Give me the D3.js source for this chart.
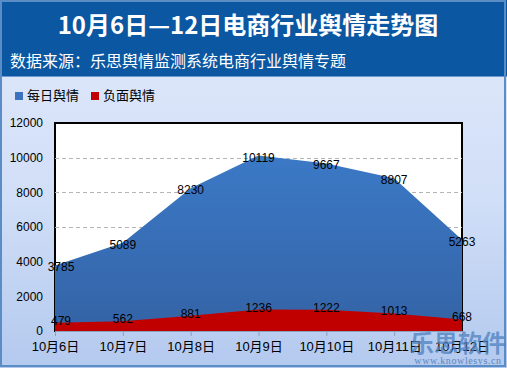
<!DOCTYPE html>
<html><head><meta charset="utf-8">
<script src="https://cdn.jsdelivr.net/npm/d3@7"></script>
<style>
html,body{margin:0;padding:0;background:#fff;}
svg{display:block;}
</style></head>
<body>
<script>
const categories = ["10月6日","10月7日","10月8日","10月9日","10月10日","10月11日","10月12日"];
const dailyValues = [3785, 5089, 8230, 10119, 9667, 8807, 5263];
const negativeValues = [479, 562, 881, 1236, 1222, 1013, 668];
const yTicks = [0, 2000, 4000, 6000, 8000, 10000, 12000];
const seriesNames = ["每日舆情", "负面舆情"];
const titleText = "10月6日—12日电商行业舆情走势图";
const subtitleText = "数据来源：乐思舆情监测系统电商行业舆情专题";

(function(){
const W = 507, H = 368;
const cjk = "Arial, 'Liberation Sans', 'Noto Sans CJK SC', sans-serif";
const svg = d3.select("body").append("svg").attr("width", W).attr("height", H);
const defs = svg.append("defs");

const bg = defs.append("linearGradient").attr("id","bg").attr("x1",0).attr("y1",0).attr("x2",0).attr("y2",1);
bg.append("stop").attr("offset","0%").attr("stop-color","#e2eafb");
bg.append("stop").attr("offset","55%").attr("stop-color","#d0def7");
bg.append("stop").attr("offset","100%").attr("stop-color","#b3c9ee");

const blueG = defs.append("linearGradient").attr("id","blueG").attr("x1",0).attr("y1",0).attr("x2",0).attr("y2",1);
blueG.append("stop").attr("offset","0%").attr("stop-color","#3b79c6");
blueG.append("stop").attr("offset","100%").attr("stop-color","#3463a6");

svg.append("rect").attr("x",0).attr("y",0).attr("width",W).attr("height",H).attr("fill","url(#bg)");
svg.append("rect").attr("x",0).attr("y",0).attr("width",W).attr("height",76).attr("fill","#0b57a2");
svg.append("line").attr("x1",0).attr("x2",W).attr("y1",76.5).attr("y2",76.5).attr("stroke","#6d98cf").attr("stroke-width",1);
svg.append("rect").attr("x",1).attr("y",1).attr("width",W-3).attr("height",H-3)
  .attr("fill","none").attr("stroke","#5a8cc6").attr("stroke-width",2);

svg.append("text").attr("x",248).attr("y",34).attr("text-anchor","middle")
  .attr("font-family","'Noto Sans CJK SC', sans-serif").attr("font-weight","bold")
  .attr("font-size",24).attr("fill","#fff").text(titleText);
svg.append("text").attr("x",10).attr("y",67)
  .attr("font-family","'Noto Sans CJK SC', sans-serif")
  .attr("font-size",16).attr("fill","#fff").text(subtitleText);

const legColors = ["#3a72bd","#c00000"];
const legX = [15, 91];
seriesNames.forEach((n,i)=>{
  svg.append("rect").attr("x",legX[i]).attr("y",92).attr("width",8).attr("height",8).attr("fill",legColors[i]);
  svg.append("text").attr("x",legX[i]+12).attr("y",100).attr("font-family","'Noto Sans CJK SC', sans-serif")
    .attr("font-size",13).attr("fill","#000").text(n);
});

const pl = 55, pr = 462, pt = 123, pb = 331;
const x = d3.scalePoint().domain(categories).range([pl, pr]);
const y = d3.scaleLinear().domain([0, 12000]).range([pb, pt]);

svg.append("rect").attr("x",pl).attr("y",pt).attr("width",pr-pl).attr("height",pb-pt)
  .attr("fill","#fff").attr("stroke","#000").attr("stroke-width",2);

svg.append("g").selectAll("line").data(yTicks.filter(d=>d>0 && d<12000)).join("line")
  .attr("x1",pl).attr("x2",pr).attr("y1",d=>Math.round(y(d))+0.5).attr("y2",d=>Math.round(y(d))+0.5)
  .attr("stroke","#b4b4b4").attr("stroke-dasharray","4,3");

const area = d3.area().x((d,i)=>x(categories[i])).y0(pb).y1(d=>y(d));
svg.append("path").datum(dailyValues).attr("d",area).attr("fill","url(#blueG)");
svg.append("path").datum(negativeValues).attr("d",area).attr("fill","#c00000");

const yAxis = d3.axisLeft(y).tickValues(yTicks).tickFormat(d3.format("d")).tickSize(0).tickPadding(12);
const ya = svg.append("g").attr("transform",`translate(${pl},0)`).call(yAxis);
ya.select(".domain").remove();
ya.selectAll("text").attr("font-family",cjk).attr("font-size",12).attr("fill","#000");

const xAxis = d3.axisBottom(x).tickSize(5).tickPadding(6);
const xa = svg.append("g").attr("transform",`translate(0,${pb})`).call(xAxis);
xa.select(".domain").attr("stroke","#8c9fbd").attr("d",`M${pl},0.5H${pr}`);
xa.selectAll(".tick line").attr("stroke","#8c9fbd");
xa.selectAll("text").attr("font-family",cjk).attr("font-size",13).attr("fill","#000");

function labels(vals, dy){
  svg.append("g").selectAll("text").data(vals).join("text")
    .attr("x",(d,i)=>{ const px = x(categories[i]); return i===0 ? px+6 : px; })
    .attr("y",d=>y(d)+dy)
    .attr("text-anchor","middle").attr("font-family",cjk).attr("font-size",12).attr("fill","#000")
    .text(d=>d);
}
labels(dailyValues, 6);
labels(negativeValues, 2);

svg.append("text").attr("x",458).attr("y",352).attr("text-anchor","middle")
  .attr("font-family","'Noto Sans CJK SC', sans-serif").attr("font-weight","bold").attr("font-size",24)
  .attr("fill","#4f80c0").attr("fill-opacity",0.75).text("乐思软件");
svg.append("text").attr("x",458).attr("y",364).attr("text-anchor","middle")
  .attr("font-family","'Liberation Serif', serif").attr("font-size",10).attr("letter-spacing",0.6)
  .attr("fill","#5f86bd").text("www.knowlesys.cn");
})();
</script>
</body></html>
